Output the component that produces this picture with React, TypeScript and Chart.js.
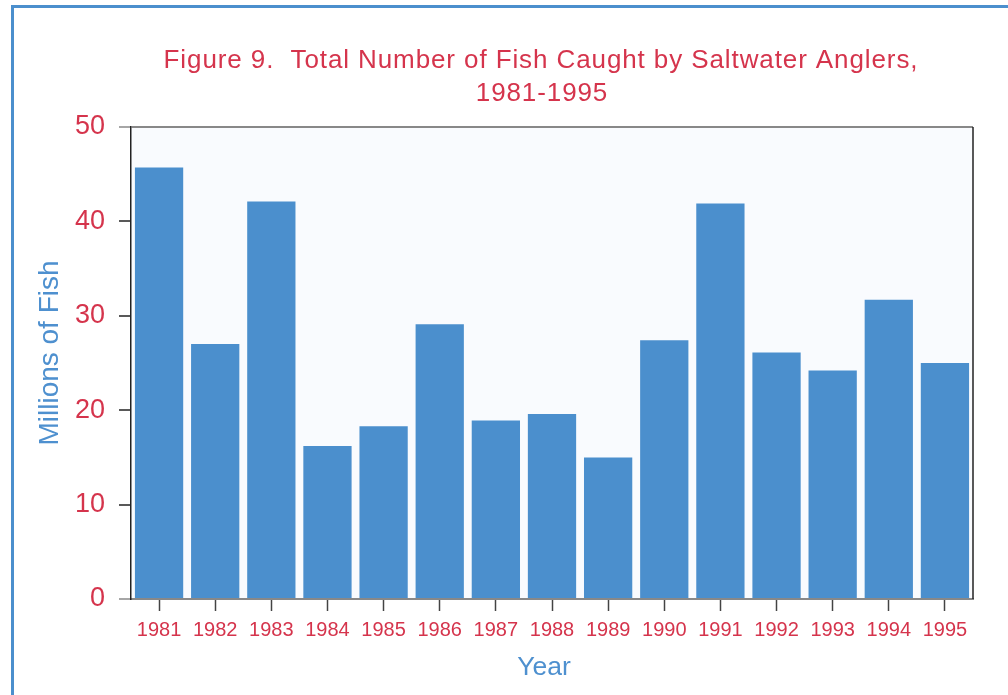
import React, { useEffect, useRef } from "react";
import { Chart, registerables } from "chart.js";

Chart.register(...registerables);

const years = ["1981","1982","1983","1984","1985","1986","1987","1988","1989","1990","1991","1992","1993","1994","1995"];
const fishMillions = [45.7, 27.0, 42.1, 16.2, 18.3, 29.1, 18.9, 19.6, 15.0, 27.4, 41.9, 26.1, 24.2, 31.7, 25.0];
const titleLines = ["Figure 9.  Total Number of Fish Caught by Saltwater Anglers,", "1981-1995"];
const yTitle = "Millions of Fish";
const xTitle = "Year";

const RED = "#d5344c";
const BLUE = "#4e90cf";
const BAR = "#4b8fcd";
const FONT = "'Liberation Sans', Arial, sans-serif";

const decorPlugin = {
  id: "decor",
  beforeDraw(chart: any) {
    const { ctx, chartArea } = chart;
    ctx.save();
    ctx.fillStyle = "#f9fbfe";
    ctx.fillRect(chartArea.left, chartArea.top, chartArea.right - chartArea.left, chartArea.bottom - chartArea.top);
    ctx.restore();
  },
  afterDraw(chart: any) {
    const { ctx, chartArea } = chart;
    ctx.save();
    ctx.strokeStyle = "#222";
    ctx.lineWidth = 1.5;
    ctx.beginPath();
    ctx.moveTo(chartArea.right, chartArea.top);
    ctx.lineTo(chartArea.right, chartArea.bottom);
    ctx.stroke();
    ctx.fillStyle = RED;
    ctx.font = `26px ${FONT}`;
    ctx.textAlign = "center";
    ctx.textBaseline = "alphabetic";
    (ctx as any).letterSpacing = "0.9px";
    ctx.fillText(titleLines[0], 541, 68);
    ctx.fillText(titleLines[1], 542, 101);
    (ctx as any).letterSpacing = "0px";
    ctx.fillStyle = BLUE;
    ctx.font = `26.5px ${FONT}`;
    ctx.fillText(xTitle, 544, 675);
    ctx.translate(58, 353);
    ctx.rotate(-Math.PI / 2);
    ctx.font = `28px ${FONT}`;
    ctx.fillText(yTitle, 0, 0);
    ctx.restore();
  },
};

export default function App() {
  const ref = useRef<HTMLCanvasElement>(null);
  useEffect(() => {
    if (!ref.current) return;
    const chart = new Chart(ref.current, {
      type: "bar",
      data: {
        labels: years,
        datasets: [
          {
            label: yTitle,
            data: fishMillions,
            backgroundColor: BAR,
            borderWidth: 0,
            barPercentage: 0.86,
            categoryPercentage: 1,
          },
        ],
      },
      options: {
        animation: false,
        responsive: false,
        maintainAspectRatio: false,
        layout: { padding: { top: 127, right: 35, bottom: 0, left: 0 } },
        plugins: { legend: { display: false }, title: { display: false }, tooltip: { enabled: false } },
        scales: {
          x: {
            afterFit: (s: any) => { s.height = 96; },
            grid: { offset: false, drawOnChartArea: false, tickLength: 12, tickColor: "#444", tickWidth: 1.5 },
            border: { color: "#888", width: 2 },
            ticks: { color: RED, font: { family: FONT, size: 20 }, padding: 7, maxRotation: 0 },
          },
          y: {
            min: 0,
            max: 50,
            afterFit: (s: any) => { s.width = 131; },
            ticks: { stepSize: 10, color: RED, font: { family: FONT, size: 27 }, padding: 14 },
            grid: {
              drawOnChartArea: true,
              tickLength: 12,
              color: (c: any) => (c.tick && c.tick.value === 50 ? "#888" : "transparent"),
              tickColor: (c: any) => (c.tick && (c.tick.value === 50 || c.tick.value === 0) ? "#888" : "#222"),
              lineWidth: 2,
              tickWidth: 1.5,
            },
            border: { color: "#222", width: 1.5 },
          },
        },
      },
      plugins: [decorPlugin],
    });
    return () => chart.destroy();
  }, []);
  return (
    <>
      <canvas ref={ref} width={1008} height={695} style={{ position: "fixed", left: 0, top: 0, width: 1008, height: 695 }} />
      <div
        style={{
          position: "fixed",
          left: 11,
          top: 5,
          right: 0,
          bottom: 0,
          borderLeft: `3px solid ${BAR}`,
          borderTop: `3px solid ${BAR}`,
          pointerEvents: "none",
        }}
      />
    </>
  );
}
